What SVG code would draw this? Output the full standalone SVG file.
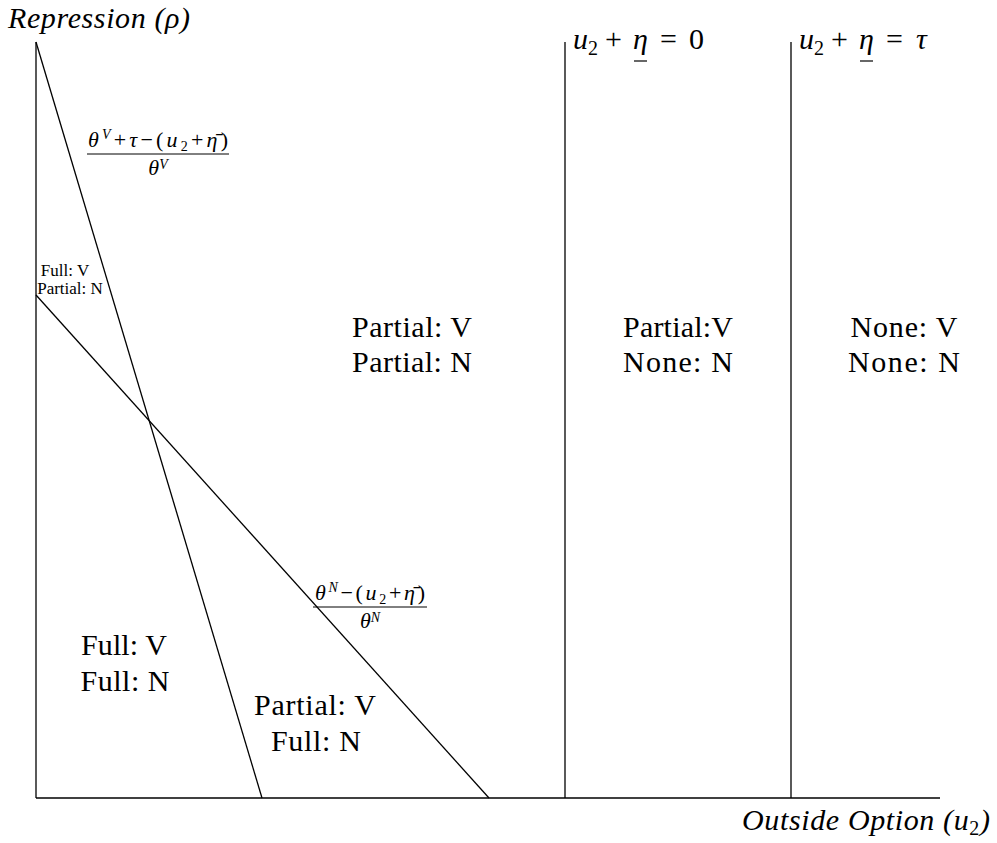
<svg xmlns="http://www.w3.org/2000/svg" width="997" height="843" viewBox="0 0 997 843">
<style>
text{font-family:"Liberation Serif","DejaVu Serif",serif;fill:#000}
.lbl{font-size:30px;text-anchor:middle}
.sm{font-size:17px;text-anchor:middle}
.ax{font-size:30px;font-style:italic}
.fr{font-size:22px;text-anchor:middle}
.it{font-style:italic}
.eq{font-size:30px}
.sub{font-size:20px}
line{stroke:#000;stroke-width:1.3;fill:none}
</style>
<rect width="997" height="843" fill="#fff"/>
<g id="connectors">
<line x1="36" y1="42" x2="36" y2="798"/>
<line x1="36" y1="798" x2="940" y2="798"/>
<line x1="36" y1="42" x2="262" y2="798"/>
<line x1="36" y1="295" x2="489" y2="798"/>
<line x1="565" y1="42" x2="565" y2="798"/>
<line x1="791" y1="42" x2="791" y2="798"/>
</g>
<g id="axis-y"><text class="ax" x="8" y="28" textLength="182" lengthAdjust="spacing">Repression (ρ)</text></g>
<g id="axis-x"><text class="ax" x="742" y="830" textLength="248" lengthAdjust="spacing">Outside Option (u<tspan class="sub" font-style="normal" dy="5">2</tspan><tspan dy="-5">)</tspan></text></g>
<g id="label-eta0">
<text class="eq it" x="573" y="49">u</text><text class="sub" x="588" y="55">2</text>
<text class="eq" x="605" y="49">+</text><text class="eq it" x="633" y="49">η</text>
<text class="eq" x="660" y="49">=</text><text class="eq" x="689" y="49">0</text>
<line x1="634" y1="61" x2="647" y2="61" style="stroke-width:1.2"/></g>
<g id="label-etatau">
<text class="eq it" x="799" y="49">u</text><text class="sub" x="814" y="55">2</text>
<text class="eq" x="831" y="49">+</text><text class="eq it" x="859" y="49">η</text>
<text class="eq" x="886" y="49">=</text><text class="eq it" x="916" y="49">τ</text>
<line x1="860" y1="61" x2="873" y2="61" style="stroke-width:1.2"/></g>
<g id="frac-V">
<text class="fr" x="158" y="147" textLength="140" lengthAdjust="spacing"><tspan class="it">θ</tspan><tspan font-size="14" class="it" dy="-8">V</tspan><tspan dy="8">+</tspan><tspan class="it">τ</tspan>−(<tspan class="it">u</tspan><tspan font-size="14" dy="4">2</tspan><tspan dy="-4">+</tspan><tspan class="it">η̄</tspan>)</text>
<line x1="87" y1="154" x2="229" y2="154" style="stroke-width:1"/>
<text class="fr" x="158" y="175"><tspan class="it">θ</tspan><tspan font-size="14" class="it" dy="-6">V</tspan></text>
</g>
<g id="frac-N">
<text class="fr" x="370" y="600" textLength="110" lengthAdjust="spacing"><tspan class="it">θ</tspan><tspan font-size="14" class="it" dy="-8">N</tspan><tspan dy="8">−(</tspan><tspan class="it">u</tspan><tspan font-size="14" dy="4">2</tspan><tspan dy="-4">+</tspan><tspan class="it">η̄</tspan>)</text>
<line x1="313" y1="607" x2="427" y2="607" style="stroke-width:1"/>
<text class="fr" x="370" y="628"><tspan class="it">θ</tspan><tspan font-size="14" class="it" dy="-6">N</tspan></text>
</g>
<g id="region-small"><text class="sm" x="65" y="276">Full: V</text><text class="sm" x="70" y="294">Partial: N</text></g>
<g id="region-pp"><text class="lbl" x="412" y="337" textLength="120">Partial: V</text><text class="lbl" x="412" y="372" textLength="120">Partial: N</text></g>
<g id="region-pn"><text class="lbl" x="678" y="337" textLength="110">Partial:V</text><text class="lbl" x="678" y="372" textLength="110">None: N</text></g>
<g id="region-nn"><text class="lbl" x="904" y="337" textLength="107">None: V</text><text class="lbl" x="904" y="372" textLength="112">None: N</text></g>
<g id="region-ff"><text class="lbl" x="124" y="655" textLength="86">Full: V</text><text class="lbl" x="125" y="691" textLength="89">Full: N</text></g>
<g id="region-pf"><text class="lbl" x="315" y="715" textLength="122">Partial: V</text><text class="lbl" x="316" y="751" textLength="90">Full: N</text></g>
</svg>
